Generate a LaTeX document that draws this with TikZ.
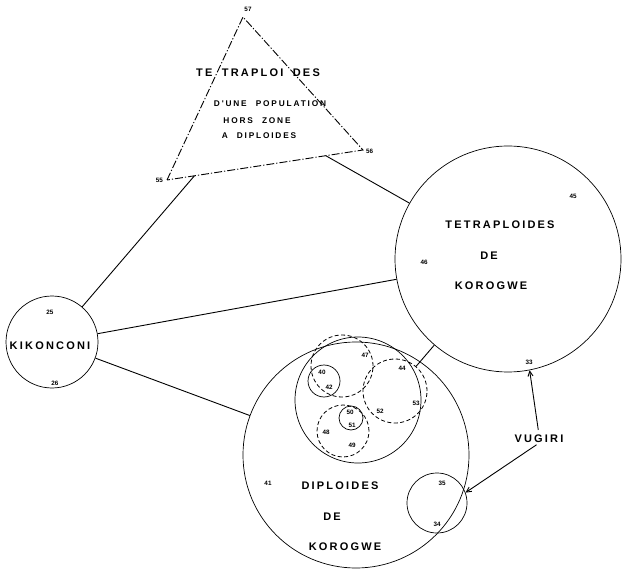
\documentclass[tikz,border=0pt]{standalone}
\usepackage{fontspec}
\setmainfont{Liberation Sans}
\newfontfamily\lettering[LetterSpace=20,WordSpace=1.8]{Liberation Sans}
\newfontfamily\sublettering[LetterSpace=22,WordSpace=2.2]{Liberation Sans}
\usetikzlibrary{arrows.meta,calc}

\begin{document}
\begin{tikzpicture}[x=1pt, y=-1pt,
  pop/.style={draw, circle, inner sep=0pt, line width=0.7pt},
  grp/.style={draw, circle, inner sep=0pt, dash pattern=on 4pt off 2.5pt, line width=0.8pt},
  tri/.style={line width=0.9pt, dash pattern=on 8pt off 2pt on 1.2pt off 2pt},
  lbl/.style={font=\lettering\bfseries\fontsize{11}{12}\selectfont, inner sep=0pt},
  sub/.style={font=\sublettering\bfseries\fontsize{8.3}{9}\selectfont, inner sep=0pt},
  num/.style={font=\bfseries\fontsize{6.3}{7}\selectfont, inner sep=0pt},
  link/.style={line width=0.9pt},
  arr/.style={-{Straight Barb[length=5pt,width=5pt]}, line width=0.9pt}
]
  \useasboundingbox (0,0) rectangle (629,585);

  % triangle of the tetraploids outside the zone
  \coordinate (v57) at (243,17);
  \coordinate (v55) at (167,180);
  \coordinate (v56) at (363,150);
  \draw[tri] (v55) -- (v57) -- (v56) -- cycle;
  \coordinate (t1) at ($(v55)!0.14!(v56)$);
  \coordinate (t2) at ($(v55)!0.81!(v56)$);
  \node[num] (n57) at (248,9) {57};
  \node[num, anchor=east] (n55) at (163,180) {55};
  \node[num, anchor=west] (n56) at (366,151) {56};
  \node[lbl] (tetrahz) at (258,73) {TE TRAPLOI DES};
  \node[sub] (hz1) at (270,104) {D'UNE POPULATION};
  \node[sub] (hz2) at (257,121) {HORS ZONE};
  \node[sub] (hz3) at (259,136) {A DIPLOIDES};

  % populations
  \node[pop, minimum size=92pt] (kik) at (52,342) {};
  \node[pop, minimum size=226pt] (tetra) at (508,259) {};
  \node[pop, minimum size=226pt] (diplo) at (356,455) {};
  \node[pop, minimum size=126pt] (inner) at (358,400) {};
  \node[pop, minimum size=32pt] (c40) at (324,381) {};
  \node[pop, minimum size=24pt] (c50) at (351,418) {};
  \node[pop, minimum size=60pt] (c34) at (437,503) {};
  \node[grp, minimum size=62pt] (grpA) at (342,366) {};
  \node[grp, minimum size=64pt] (grpB) at (395,391) {};
  \node[grp, minimum size=52pt] (grpC) at (343,431) {};

  \node[lbl] (kikname) at (50,346) {KIKONCONI};
  \node[lbl] (tname1) at (500,225) {TETRAPLOIDES};
  \node[lbl] (tname2) at (489,256) {DE};
  \node[lbl] (tname3) at (491,286) {KOROGWE};
  \node[lbl] (dname1) at (340,486) {DIPLOIDES};
  \node[lbl] (dname2) at (332,517) {DE};
  \node[lbl] (dname3) at (345,547) {KOROGWE};
  \node[lbl] (vugiri) at (539,439) {VUGIRI};

  % sample numbers
  \node[num] (n25) at (50,312) {25};
  \node[num] (n26) at (55,383) {26};
  \node[num] (n45) at (573,196) {45};
  \node[num] (n46) at (424,262) {46};
  \node[num] (n33) at (529,362) {33};
  \node[num] (n40) at (322,372) {40};
  \node[num] (n42) at (329,387) {42};
  \node[num] (n47) at (365,355) {47};
  \node[num] (n44) at (402,368) {44};
  \node[num] (n53) at (416,403) {53};
  \node[num] (n52) at (380,411) {52};
  \node[num] (n50) at (350,412) {50};
  \node[num] (n51) at (352,425) {51};
  \node[num] (n48) at (326,432) {48};
  \node[num] (n49) at (352,445) {49};
  \node[num] (n41) at (268,483) {41};
  \node[num] (n35) at (442,483) {35};
  \node[num] (n34) at (437,524) {34};

  \draw[link] (kik) -- (t1);
  \draw[link] (kik) -- (tetra);
  \draw[link] (kik) -- (diplo);
  \draw[link] (t2) -- (tetra);
  \draw[link] (grpB) -- (tetra);
  \draw[arr, shorten <=5pt] (vugiri.north) -- (tetra.-79);
  \draw[arr, shorten <=3pt] (vugiri.south) -- (c34.20);
\end{tikzpicture}
\end{document}
